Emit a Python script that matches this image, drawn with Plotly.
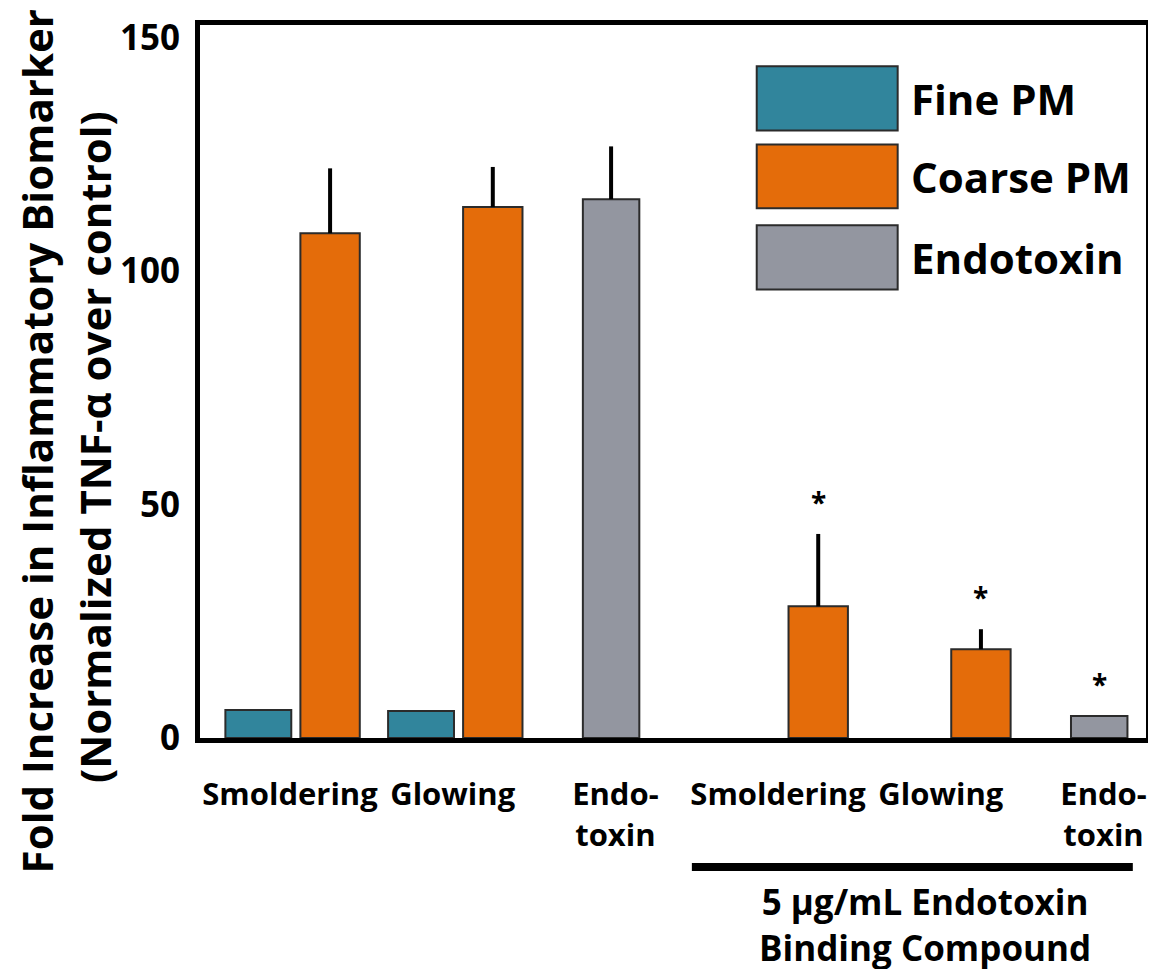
import plotly.graph_objects as go

# ---- data ----
categories = ["Smoldering", "Glowing", "Endo-<br>toxin",
              "Smoldering", "Glowing", "Endo-<br>toxin"]
series_names = ["Fine PM", "Coarse PM", "Endotoxin"]
fine_pm = [6.0, 5.8, None, None, None, None]
coarse_pm = [108.1, 113.7, None, 28.2, 19.0, None]
coarse_pm_err = [13.9, 8.6, None, 15.5, 4.3, None]
endotoxin = [None, None, 115.4, None, None, 4.7]
endotoxin_err = [None, None, 11.3, None, None, 0]
significant = [False, False, False, True, True, True]
y_ticks = [0, 50, 100, 150]
treatment_label = "5 µg/mL Endotoxin<br>Binding Compound"
y_title_lines = ["Fold Increase in Inflammatory Biomarker",
                 "(Normalized TNF-α over control)"]

# ---- style ----
FONT = "Open Sans"
colors = ["#31859C", "#E46C0A", "#9396A0"]
edge = "#2b2b2b"
xi = list(range(len(categories)))

fig = go.Figure()
# width / offset (category units) per series
geom = {"Fine PM": (0.405, -0.397), "Coarse PM": (0.365, 0.064), "Endotoxin": (0.347, -0.20)}


def err(vals):
    return dict(type="data", array=[v if v is not None else 0 for v in vals],
                arrayminus=[0] * len(vals), symmetric=False,
                color="black", thickness=4, width=0)


fig.add_trace(go.Bar(x=xi, y=fine_pm, name=series_names[0], width=geom["Fine PM"][0],
                     offset=geom["Fine PM"][1],
                     marker=dict(color=colors[0], line=dict(color=edge, width=2)),
                     showlegend=False))
fig.add_trace(go.Bar(x=xi, y=coarse_pm, name=series_names[1], width=geom["Coarse PM"][0],
                     offset=geom["Coarse PM"][1],
                     marker=dict(color=colors[1], line=dict(color=edge, width=2)),
                     error_y=err(coarse_pm_err), showlegend=False))
fig.add_trace(go.Bar(x=xi, y=endotoxin, name=series_names[2], width=geom["Endotoxin"][0],
                     offset=geom["Endotoxin"][1],
                     marker=dict(color=colors[2], line=dict(color=edge, width=2)),
                     error_y=err(endotoxin_err), showlegend=False))

annotations = []
# significance stars
for i, sig in enumerate(significant):
    if not sig:
        continue
    if coarse_pm[i] is not None:
        top = coarse_pm[i] + (coarse_pm_err[i] or 0)
        xc = i + geom["Coarse PM"][1] + geom["Coarse PM"][0] / 2
    else:
        top = endotoxin[i] + (endotoxin_err[i] or 0)
        xc = i + geom["Endotoxin"][1] + geom["Endotoxin"][0] / 2
    annotations.append(dict(x=xc, y=top, xref="x", yref="y", text="*", showarrow=False,
                            yshift=32, font=dict(size=28, family=FONT, color="black")))

# y title (two lines)
annotations.append(dict(x=0, y=0.416, xref="paper", yref="paper", text=y_title_lines[0],
                        textangle=-90, showarrow=False, xshift=-164,
                        xanchor="center", yanchor="middle",
                        font=dict(size=42, family=FONT, color="black", weight=700)))
annotations.append(dict(x=0, y=0.408, xref="paper", yref="paper", text=y_title_lines[1],
                        textangle=-90, showarrow=False, xshift=-106,
                        xanchor="center", yanchor="middle",
                        font=dict(size=42, family=FONT, color="black", weight=700)))

# treatment label
annotations.append(dict(x=3.90, y=-0.261, xref="x", yref="paper", text=treatment_label,
                        showarrow=False, xanchor="center", yanchor="middle",
                        font=dict(size=35, family=FONT, color="black", weight=700)))

shapes = [dict(type="line", xref="x", yref="paper", x0=2.47, x1=5.18, y0=-0.181, y1=-0.181,
               line=dict(color="black", width=8))]

# legend (large swatches)
leg_y = [(0.942, 0.852), (0.8325, 0.743), (0.719, 0.629)]
for (y1, y0), c, name in zip(leg_y, colors, series_names):
    shapes.append(dict(type="rect", xref="paper", yref="paper", x0=0.5885, x1=0.7375,
                       y0=y0, y1=y1, fillcolor=c, line=dict(color=edge, width=2)))
    annotations.append(dict(x=0.749, y=(y0 + y1) / 2, xref="paper", yref="paper", text=name,
                            showarrow=False, xanchor="left", yanchor="middle",
                            font=dict(size=42, family=FONT, color="black", weight=700)))

fig.update_layout(
    width=1148, height=961,
    margin=dict(l=192, r=9.5, t=16.5, b=231),
    plot_bgcolor="white", paper_bgcolor="white",
    barmode="overlay",
    font=dict(family=FONT, color="black", weight=700),
    annotations=annotations, shapes=shapes,
    showlegend=False,
)
fig.update_xaxes(range=[-0.553, 5.261], tickvals=xi, ticktext=categories,
                 showline=True, linecolor="black", linewidth=5, mirror=True, automargin=False,
                 ticks="", showgrid=False, zeroline=False, ticklabelstandoff=25,
                 tickfont=dict(size=31, family=FONT, color="black", weight=700))
fig.update_yaxes(range=[0, 152.7], tickvals=y_ticks,
                 showline=True, linecolor="black", linewidth=5, mirror=True, automargin=False,
                 ticks="", showgrid=False, zeroline=False, ticklabelstandoff=8,
                 tickfont=dict(size=35, family=FONT, color="black", weight=700))

fig.write_html("out.html")
